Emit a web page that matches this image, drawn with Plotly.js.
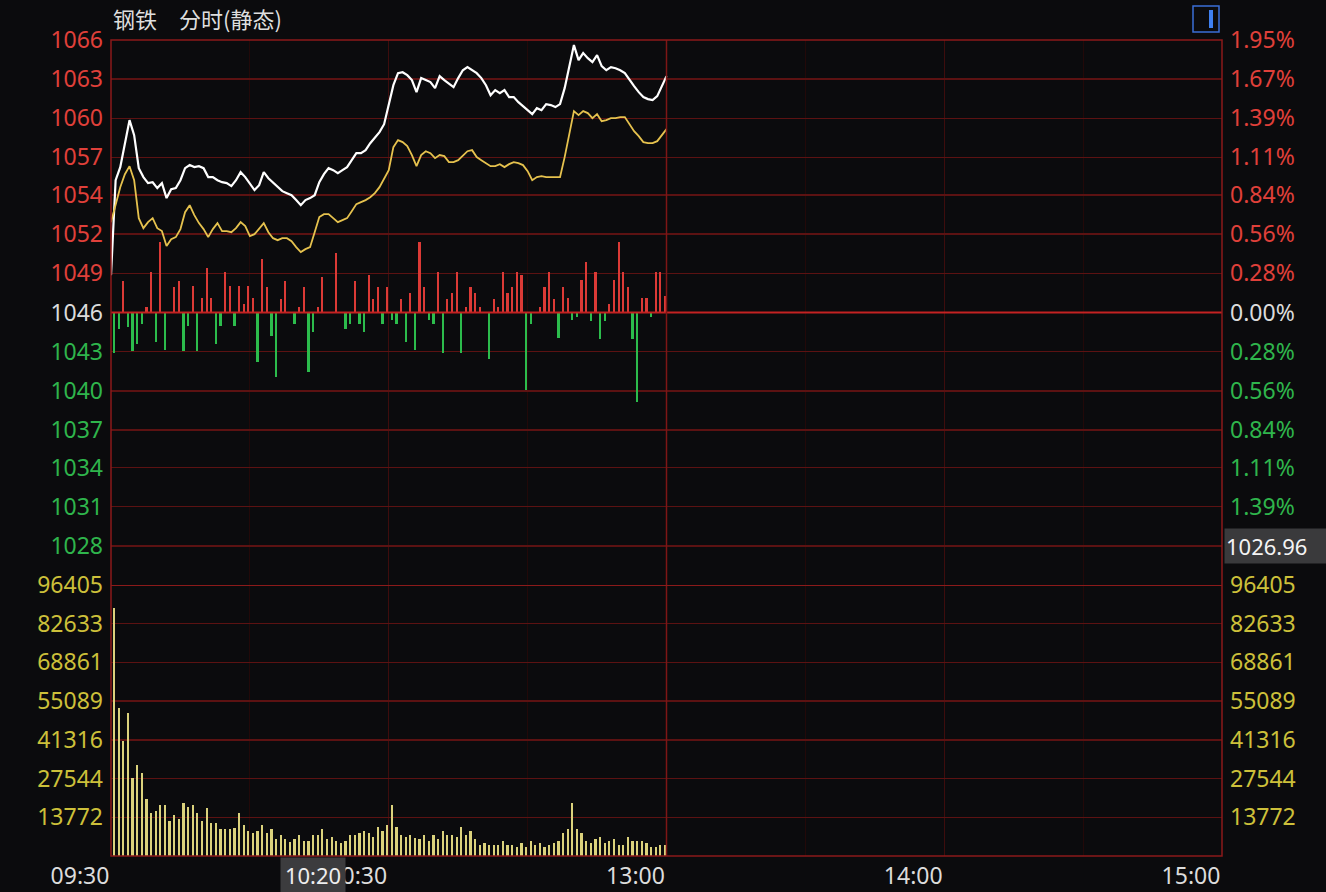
<!DOCTYPE html>
<html><head><meta charset="utf-8">
<script src="https://cdn.plot.ly/plotly-3.0.1.min.js"></script>
<style>html,body{margin:0;padding:0;background:#0b0b0d;} #chart{width:1326px;height:892px;}</style>
</head><body><div id="chart"></div>
<script>
const chartTitle = '钢铁\u3000分时(静态)';
const prevClose = 1045.67;
const pricePctTicks = [1.95,1.67,1.39,1.11,0.84,0.56,0.28,0,-0.28,-0.56,-0.84,-1.11,-1.39,-1.67];
const priceTickLabels = ['1066','1063','1060','1057','1054','1052','1049','1046','1043','1040','1037','1034','1031','1028'];
// the lowest percent label sits under the cursor box in the original, so it is left blank
const pctTickLabels = ['1.95%','1.67%','1.39%','1.11%','0.84%','0.56%','0.28%','0.00%','0.28%','0.56%','0.84%','1.11%','1.39%',''];
const volumeTickLabels = ['96405','82633','68861','55089','41316','27544','13772'];
const timeTickLabels = ['09:30','10:30','13:00','14:00','15:00'];
const timeTickMinutes = [0,60,120,180,240];
const cursorPriceText = '1026.96';
const cursorTimeText = '10:20';
const cursorTimeMinute = 50;

const indexPrice = [1048.46,1055.57,1056.55,1058.19,1060.06,1058.94,1056.47,1055.80,1055.35,1055.42,
1054.98,1055.35,1054.23,1054.90,1054.98,1055.57,1056.47,1056.70,1056.55,1056.62,
1056.47,1055.80,1055.80,1055.57,1055.42,1055.35,1055.13,1055.57,1056.17,1055.80,
1055.27,1054.83,1055.20,1056.17,1055.72,1055.42,1055.05,1054.75,1054.60,1054.45,
1054.08,1053.70,1054.08,1054.23,1054.45,1055.42,1056.02,1056.47,1056.32,1056.10,
1056.32,1056.55,1057.07,1057.59,1057.59,1057.82,1058.34,1058.72,1059.17,1059.76,
1061.19,1062.68,1063.58,1063.65,1063.43,1063.06,1062.16,1063.21,1063.06,1062.91,
1062.46,1063.36,1063.06,1062.76,1062.53,1063.21,1063.80,1064.03,1063.80,1063.58,
1063.21,1062.68,1061.93,1062.31,1062.08,1062.31,1061.79,1061.79,1061.41,1061.11,
1060.81,1060.51,1060.96,1060.81,1061.26,1061.19,1061.04,1061.26,1062.46,1063.95,
1065.68,1064.55,1065.08,1064.70,1064.40,1064.93,1064.10,1063.80,1064.03,1063.95,
1063.80,1063.58,1063.06,1062.61,1062.16,1061.79,1061.64,1061.56,1061.86,1062.61,
1063.36];

const leadPrice = [1052.43,1053.70,1055.05,1056.02,1056.62,1055.57,1052.73,1051.98,1052.43,1052.73,
1051.98,1051.76,1050.64,1051.16,1051.31,1051.91,1053.18,1053.70,1052.96,1052.36,
1051.91,1051.31,1051.91,1052.36,1051.76,1051.76,1051.68,1051.98,1052.43,1052.13,
1051.38,1051.53,1051.98,1052.36,1051.68,1051.23,1051.08,1051.23,1051.23,1051.01,
1050.56,1050.19,1050.41,1050.56,1051.68,1052.81,1053.03,1053.03,1052.73,1052.43,
1052.58,1052.73,1053.25,1053.78,1053.93,1054.08,1054.30,1054.60,1055.05,1055.65,
1056.32,1058.04,1058.57,1058.42,1058.12,1057.45,1056.62,1057.45,1057.74,1057.59,
1057.22,1057.45,1057.37,1056.92,1056.92,1057.07,1057.37,1057.74,1057.82,1057.30,
1057.07,1056.85,1056.62,1056.62,1056.77,1056.55,1056.77,1056.92,1056.85,1056.70,
1056.25,1055.57,1055.80,1055.87,1055.80,1055.80,1055.80,1055.80,1057.30,1059.17,
1060.74,1060.44,1060.74,1060.59,1060.21,1060.51,1059.99,1060.06,1060.21,1060.21,
1060.29,1060.29,1059.76,1059.24,1058.87,1058.42,1058.34,1058.34,1058.49,1058.94,
1059.39];

const upDown = [-14.7,-6.2,11.4,-5.5,-14.3,-11.7,-4.4,2.2,15.0,-11.0,
26.0,-13.6,0,9.2,11.4,-14.3,-5.1,9.9,-14.3,5.5,
16.5,5.5,-11.7,-5.1,14.7,9.9,-5.1,9.9,3.3,9.9,
5.5,-18.3,19.5,9.2,-8.8,-23.5,4.8,11.4,0,-4.4,
2.2,9.2,-21.7,-7.0,2.2,13.2,0,0,22.0,0,
-6.2,-4.4,11.4,-4.4,-7.0,13.9,4.8,9.2,-4.4,9.2,
-2.6,-4.4,4.8,-11.0,7.0,-13.6,26.0,9.2,-2.6,-4.4,
15.0,-14.7,4.8,7.0,15.0,-14.7,2.2,9.2,7.0,2.2,
0,-17.2,4.8,2.2,15.0,7.0,9.2,15.0,13.9,-28.3,
-4.4,0,2.2,9.2,15.0,4.8,-9.2,9.2,5.5,-2.6,
-1.5,12.1,18.7,-3.3,14.7,-9.9,-3.3,3.3,12.1,25.7,
14.7,9.2,-9.9,-33.0,5.5,5.5,-1.5,14.7,14.7,6.2];

const volume = [88250,52700,40900,50900,27800,32300,29400,20200,15200,16000,
18000,18000,12400,14500,13000,18700,17500,18000,15200,12400,
17200,11600,11600,9700,9700,9700,10100,15200,10900,8900,
8100,8900,10900,8100,9500,6200,7300,6200,5000,5900,
7300,5300,5300,7300,7300,9500,6200,6800,5300,4500,
5300,7300,7300,8100,8900,8100,6800,10400,8900,10900,
18000,10400,7300,6800,7300,6500,6200,7300,5300,7300,
6200,8900,7300,7300,6800,10400,7300,8900,6200,3800,
4500,3800,3800,3800,5300,3800,3800,3300,4500,3300,
5300,3800,4500,3300,3800,4500,5300,8100,9700,18700,
9700,8100,5300,4500,6200,6800,4500,5300,5900,3800,
3800,6800,5300,5300,5300,4500,3300,3300,3800,3800];

// colours
const RED = '#e0403a', GREEN = '#2fb54c', NEUTRAL = '#dcdcdc', VOLY = '#cdc03a';
const GRID = '#5c1212', BORDER = '#8c1a1a';

const W = 1326, H = 892, ML = 111, MR = 104, MT = 40, MB = 36;
const plotW = W - ML - MR, plotH = H - MT - MB;
const volFrac = 271 / plotH;
const px2paperX = p => (p - ML) / plotW;
const px2paperY = p => (H - MB - p) / plotH;

const lineX = indexPrice.map((_, i) => i);
const barX = volume.map((_, i) => i + 1);
const priceRange = [prevClose * (1 - pricePctTicks[0] / 100), prevClose * (1 + pricePctTicks[0] / 100)];
const priceTickVals = pricePctTicks.map(p => prevClose * (1 + p / 100));
const tickColor = p => p > 0 ? RED : (p < 0 ? GREEN : NEUTRAL);
const priceTickText = priceTickLabels.map((t, i) => `<span style="color:${tickColor(pricePctTicks[i])}">${t}</span>`);
const pctTickText = pctTickLabels.map((t, i) => t ? `<span style="color:${tickColor(pricePctTicks[i])}">${t}</span>` : '');
const volTickVals = volumeTickLabels.map(Number);
const volMax = volTickVals[0];

const tickFont = {family: 'Noto Sans, DejaVu Sans, sans-serif', size: 23, color: NEUTRAL};

const traces = [
  {type: 'bar', x: barX, y: volume, xaxis: 'x', yaxis: 'y4', width: 0.48, offset: -0.58,
   marker: {color: '#dbd27c', line: {width: 0}}, hoverinfo: 'skip'},
  {type: 'scatter', mode: 'lines', x: barX, y: volume, xaxis: 'x', yaxis: 'y5',
   line: {width: 0, color: 'rgba(0,0,0,0)'}, hoverinfo: 'skip', showlegend: false},
  {type: 'bar', x: barX, y: upDown, xaxis: 'x', yaxis: 'y3', width: 0.48, offset: -0.58,
   marker: {color: upDown.map(v => v >= 0 ? '#dc3a36' : '#2cbc4c'), line: {width: 0}}, hoverinfo: 'skip'},
  {type: 'scatter', mode: 'lines', x: lineX, y: leadPrice, xaxis: 'x', yaxis: 'y2',
   line: {color: '#e6c24e', width: 1.8}, hoverinfo: 'skip'},
  {type: 'scatter', mode: 'lines', x: lineX, y: indexPrice, xaxis: 'x', yaxis: 'y',
   line: {color: '#ffffff', width: 2.2}, hoverinfo: 'skip'}
];

const layout = {
  width: W, height: H,
  margin: {l: ML, r: MR, t: MT, b: MB, pad: 0},
  paper_bgcolor: '#0b0b0d', plot_bgcolor: '#0b0b0d',
  showlegend: false, hovermode: false, bargap: 0,
  title: {text: chartTitle, xref: 'paper', x: px2paperX(113), xanchor: 'left',
          yref: 'container', y: 1 - 20 / H, yanchor: 'middle',
          font: {family: 'Noto Sans CJK SC, sans-serif', size: 22, color: '#dedede'}},
  xaxis: {range: [0, 240], anchor: 'y4', tickmode: 'array', tickvals: timeTickMinutes, ticktext: timeTickLabels,
          showgrid: true, gridcolor: '#3e0d0d', gridwidth: 1, zeroline: false, showline: false, ticks: '',
          minor: {tickmode: 'array', tickvals: [30, 90, 150, 210], showgrid: true, gridcolor: '#220909', gridwidth: 1, ticks: ''},
          tickfont: tickFont, ticklabelshift: -31, ticklabelstandoff: 4, fixedrange: true},
  yaxis: {domain: [volFrac, 1], range: priceRange, tickmode: 'array', tickvals: priceTickVals, ticktext: priceTickText,
          showgrid: true, gridcolor: GRID, gridwidth: 1.5, zeroline: false, showline: false, ticks: '',
          tickfont: tickFont, ticklabelstandoff: 7, fixedrange: true},
  yaxis2: {overlaying: 'y', side: 'right', range: priceRange, tickmode: 'array', tickvals: priceTickVals, ticktext: pctTickText,
           showgrid: false, zeroline: false, showline: false, ticks: '', tickfont: tickFont, ticklabelstandoff: 7, fixedrange: true},
  yaxis3: {overlaying: 'y', range: [-100, 100], visible: false, fixedrange: true},
  yaxis4: {domain: [0, volFrac], range: [0, volMax], tickmode: 'array', tickvals: volTickVals, ticktext: volumeTickLabels,
           showgrid: true, gridcolor: GRID, gridwidth: 1.5, zeroline: false, showline: false, ticks: '',
           tickfont: Object.assign({}, tickFont, {color: VOLY}), ticklabelstandoff: 7, fixedrange: true},
  yaxis5: {overlaying: 'y4', side: 'right', range: [0, volMax], tickmode: 'array', tickvals: volTickVals, ticktext: volumeTickLabels,
           showgrid: false, zeroline: false, showline: false, ticks: '',
           tickfont: Object.assign({}, tickFont, {color: VOLY}), ticklabelstandoff: 7, fixedrange: true},
  shapes: [
    {type: 'line', xref: 'paper', x0: 0, x1: 1, yref: 'y', y0: prevClose, y1: prevClose, line: {color: '#c42222', width: 2}},
    {type: 'line', xref: 'x', x0: 120, x1: 120, yref: 'paper', y0: 0, y1: 1, line: {color: '#7e1616', width: 1.5}},
    {type: 'line', xref: 'paper', x0: 0, x1: 1, yref: 'y4', y0: volMax, y1: volMax, line: {color: BORDER, width: 2}},
    {type: 'rect', xref: 'paper', x0: 0, x1: 1, yref: 'paper', y0: 0, y1: 1, line: {color: BORDER, width: 1.5}},
    {type: 'rect', xref: 'paper', x0: px2paperX(1193), x1: px2paperX(1219), yref: 'paper', y0: px2paperY(32), y1: px2paperY(6),
     line: {color: '#3b6fd6', width: 1.5}},
    {type: 'rect', xref: 'paper', x0: px2paperX(1209), x1: px2paperX(1213), yref: 'paper', y0: px2paperY(28), y1: px2paperY(10),
     line: {width: 0}, fillcolor: '#3f80f0'}
  ],
  annotations: [
    {text: cursorPriceText, xref: 'paper', x: px2paperX(1224), xanchor: 'left', yref: 'y', y: priceTickVals[priceTickVals.length - 1],
     yanchor: 'middle', showarrow: false, bgcolor: '#3a3a3c', width: 100, height: 32, align: 'left',
     font: {family: 'Noto Sans, sans-serif', size: 22, color: '#f4f4f4'}},
    {text: cursorTimeText, xref: 'x', x: cursorTimeMinute, xanchor: 'right', xshift: 4, yref: 'paper', y: 0, yanchor: 'top', yshift: -1,
     showarrow: false, bgcolor: '#3c3c3e', width: 62, height: 32,
     font: {family: 'Noto Sans, sans-serif', size: 22, color: '#eeeeee'}}
  ]
};

Plotly.newPlot('chart', traces, layout, {staticPlot: true, displayModeBar: false});
</script>
</body></html>
